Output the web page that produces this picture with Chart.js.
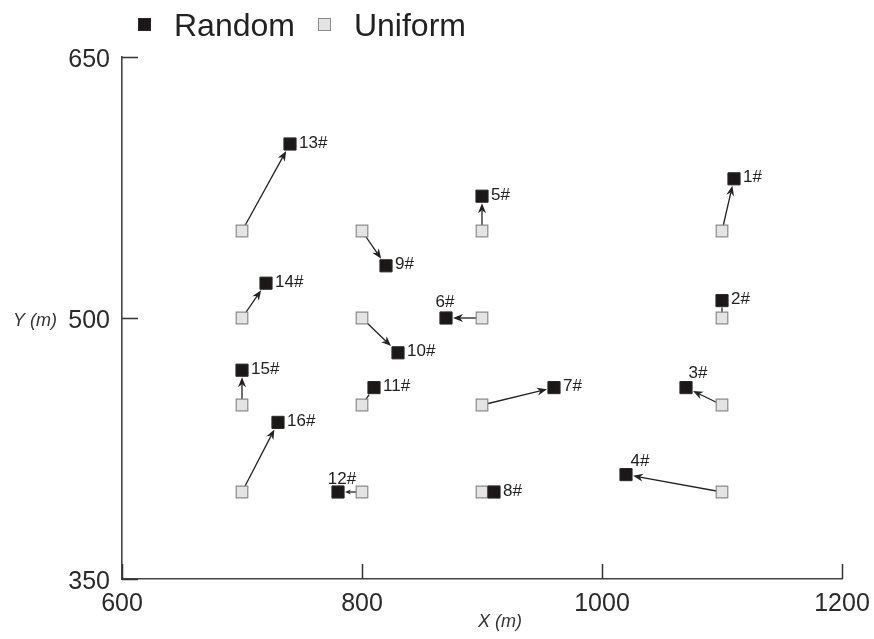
<!DOCTYPE html>
<html>
<head>
<meta charset="utf-8">
<title>Random vs Uniform</title>
<script src="https://cdn.jsdelivr.net/npm/chart.js@4"></script>
<style>
  body { margin: 0; background: #fff; }
  canvas { display: block; }
</style>
</head>
<body>
<canvas id="nodeChart" width="874" height="639"></canvas>
<script>
// node ids and their two placements
const pointIds = ['1#', '2#', '3#', '4#', '5#', '6#', '7#', '8#', '9#', '10#', '11#', '12#', '13#', '14#', '15#', '16#'];
const uniformX = [1100, 1100, 1100, 1100, 900, 900, 900, 900, 800, 800, 800, 800, 700, 700, 700, 700];
const uniformY = [550, 500, 450, 400, 550, 500, 450, 400, 550, 500, 450, 400, 550, 500, 450, 400];
const randomX = [1110, 1100, 1070, 1020, 900, 870, 960, 910, 820, 830, 810, 780, 740, 720, 700, 730];
const randomY = [580, 510, 460, 410, 570, 500, 460, 400, 530, 480, 460, 400, 600, 520, 470, 440];
const xTicks = [600, 800, 1000, 1200];
const yTicks = [350, 500, 650];

const FONT = "'Liberation Sans', Arial, sans-serif";
const INK = '#222';

// labels that sit above their marker instead of to the right
const labelAbove = { '3#': [12, -14], '4#': [14, -13], '6#': [-1, -16], '12#': [4, -13] };

const toPoints = (xs, ys) => xs.map((v, i) => ({ x: v, y: ys[i] }));

// uniform -> random displacement arrows
const arrowPlugin = {
    id: 'arrows',
    beforeDatasetsDraw(chart) {
        const { ctx, scales: { x, y } } = chart;
        ctx.save();
        ctx.strokeStyle = INK;
        ctx.fillStyle = INK;
        ctx.lineWidth = 1.3;
        for (let i = 0; i < pointIds.length; i++) {
            const x0 = x.getPixelForValue(uniformX[i]), y0 = y.getPixelForValue(uniformY[i]);
            const x1 = x.getPixelForValue(randomX[i]), y1 = y.getPixelForValue(randomY[i]);
            const dx = x1 - x0, dy = y1 - y0, len = Math.hypot(dx, dy);
            if (len < 14) continue;
            const ux = dx / len, uy = dy / len;
            const edge = 7 / Math.max(Math.abs(ux), Math.abs(uy));
            const tx = x1 - ux * edge, ty = y1 - uy * edge;
            const head = Math.min(10, (len - edge - 6) * 0.55);
            const hasHead = head > 4;
            const back = hasHead ? head * 0.7 : 0;
            ctx.beginPath();
            ctx.moveTo(x0, y0);
            ctx.lineTo(tx - ux * back, ty - uy * back);
            ctx.stroke();
            if (hasHead) {
                const nx = -uy, ny = ux, w = head * 0.4;
                ctx.beginPath();
                ctx.moveTo(tx, ty);
                ctx.lineTo(tx - ux * head + nx * w, ty - uy * head + ny * w);
                ctx.lineTo(tx - ux * back, ty - uy * back);
                ctx.lineTo(tx - ux * head - nx * w, ty - uy * head - ny * w);
                ctx.closePath();
                ctx.fill();
            }
        }
        ctx.restore();
    }
};

// id labels, inward tick marks, axis titles and the legend
const decorPlugin = {
    id: 'decor',
    afterDatasetsDraw(chart) {
        const { ctx, scales: { x, y } } = chart;
        ctx.save();

        ctx.fillStyle = INK;
        ctx.font = '17px ' + FONT;
        ctx.textBaseline = 'middle';
        pointIds.forEach((id, i) => {
            const px = x.getPixelForValue(randomX[i]), py = y.getPixelForValue(randomY[i]);
            const off = labelAbove[id];
            if (off) {
                ctx.textAlign = 'center';
                ctx.fillText(id, px + off[0], py + off[1]);
            } else {
                ctx.textAlign = 'left';
                ctx.fillText(id, px + 9, py - 1);
            }
        });

        // tick marks point into the plot
        ctx.strokeStyle = '#333';
        ctx.lineWidth = 1.5;
        ctx.beginPath();
        xTicks.forEach(v => {
            const px = Math.round(x.getPixelForValue(v)) + 0.5;
            ctx.moveTo(px, y.bottom);
            ctx.lineTo(px, y.bottom - 15);
        });
        yTicks.forEach(v => {
            const py = Math.round(y.getPixelForValue(v)) + 0.5;
            ctx.moveTo(x.left, py);
            ctx.lineTo(x.left + 16, py);
        });
        ctx.stroke();

        ctx.fillStyle = '#333';
        ctx.font = 'italic 18px ' + FONT;
        ctx.textBaseline = 'middle';
        ctx.textAlign = 'left';
        ctx.fillText('Y (m)', 13, 321);
        ctx.textAlign = 'center';
        ctx.fillText('X (m)', 500, 622);

        // legend
        ctx.font = '32px ' + FONT;
        ctx.textAlign = 'left';
        ctx.textBaseline = 'alphabetic';
        let lx = 138;
        chart.data.datasets.forEach(ds => {
            ctx.fillStyle = ds.backgroundColor;
            ctx.strokeStyle = ds.borderColor;
            ctx.lineWidth = 1;
            ctx.fillRect(lx, 18.5, 12, 12);
            ctx.strokeRect(lx + 0.5, 18.5, 12, 12);
            ctx.fillStyle = INK;
            ctx.fillText(ds.label, lx + 36, 36);
            lx += 36 + ctx.measureText(ds.label).width + 23;
        });

        ctx.restore();
    }
};

new Chart(document.getElementById('nodeChart'), {
    type: 'scatter',
    data: {
        datasets: [{
            label: 'Random',
            data: toPoints(randomX, randomY),
            pointStyle: 'rect',
            radius: 8.6,
            hoverRadius: 8.6,
            backgroundColor: '#1d1818',
            borderColor: '#2a2a2a',
            borderWidth: 1
        }, {
            label: 'Uniform',
            data: toPoints(uniformX, uniformY),
            pointStyle: 'rect',
            radius: 8.2,
            hoverRadius: 8.2,
            backgroundColor: '#e4e4e4',
            borderColor: '#8a8a8a',
            borderWidth: 1.2
        }]
    },
    options: {
        responsive: false,
        devicePixelRatio: 1,
        animation: false,
        layout: { padding: { top: 57, right: 32, left: 0, bottom: 0 } },
        plugins: {
            legend: { display: false },
            tooltip: { enabled: false }
        },
        scales: {
            x: {
                type: 'linear',
                min: 600,
                max: 1200,
                afterBuildTicks: s => { s.ticks = xTicks.map(v => ({ value: v })); },
                afterFit: s => {
                    s.height = 60;
                    s.paddingLeft = 0;
                    s.paddingRight = 0;
                },
                grid: { display: false, drawTicks: false },
                border: { display: true, color: '#444', width: 1.6 },
                ticks: {
                    color: '#2a2a2a',
                    font: { family: FONT, size: 25 },
                    padding: 10,
                    maxRotation: 0,
                    callback: v => String(v)
                }
            },
            y: {
                type: 'linear',
                min: 350,
                max: 650,
                afterBuildTicks: s => { s.ticks = yTicks.map(v => ({ value: v })); },
                afterFit: s => { s.width = 122; },
                grid: { display: false, drawTicks: false },
                border: { display: true, color: '#444', width: 1.6 },
                ticks: {
                    color: '#2a2a2a',
                    font: { family: FONT, size: 25 },
                    padding: 12,
                    labelOffset: 3,
                    callback: v => String(v)
                }
            }
        }
    },
    plugins: [arrowPlugin, decorPlugin]
});
</script>
</body>
</html>
